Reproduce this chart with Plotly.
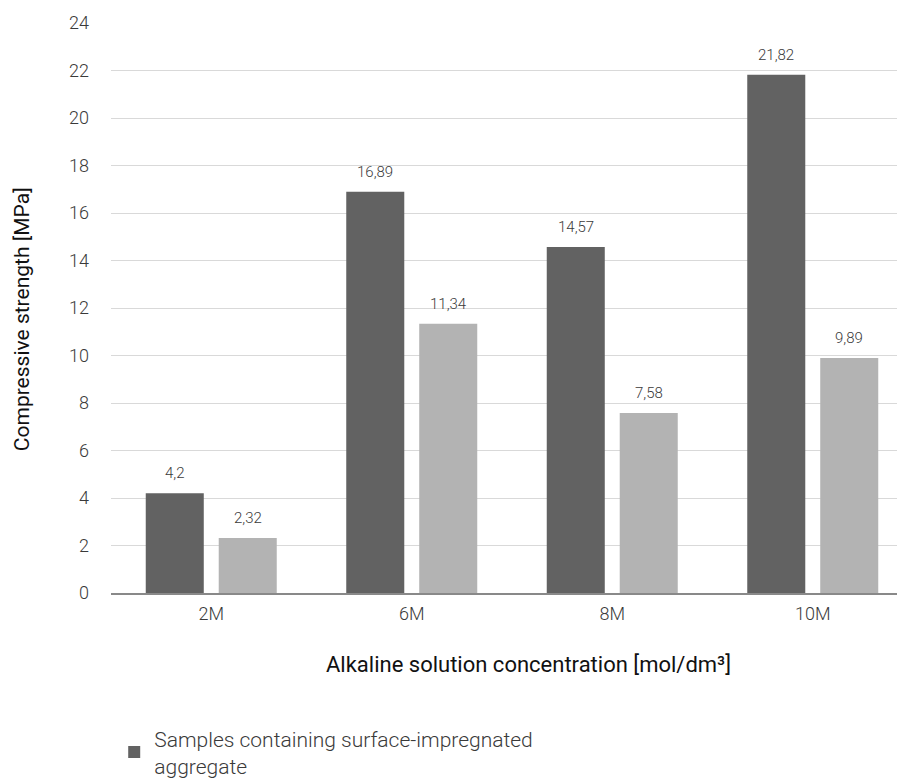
import plotly.graph_objects as go

categories = ["2M", "6M", "8M", "10M"]
impregnated = [4.2, 16.89, 14.57, 21.82]
reference = [2.32, 11.34, 7.58, 9.89]
series_names = ["Samples containing surface-impregnated<br>aggregate",
                "Samples containing non-impregnated aggregate"]
y_ticks = list(range(0, 25, 2))
x_title = "Alkaline solution concentration [mol/dm³]"
y_title = "Compressive strength [MPa]"

def fmt(v):
    return str(v).replace(".", ",")

DARK = "#626262"
LIGHT = "#b3b3b3"
FONT = "Roboto"
TXT = "#3a3a3a"

fig = go.Figure()
fig.add_trace(go.Bar(x=categories, y=impregnated, name=series_names[0],
                     marker=dict(color=DARK, line=dict(width=0))))
fig.add_trace(go.Bar(x=categories, y=reference, name=series_names[1],
                     marker=dict(color=LIGHT, line=dict(width=0)), showlegend=False))

shift = 36.5
for i, c in enumerate(categories):
    fig.add_annotation(x=c, y=impregnated[i], text=fmt(impregnated[i]), xshift=-shift,
                       yshift=20, showarrow=False,
                       font=dict(family=FONT, size=15, color=TXT, weight=300))
    fig.add_annotation(x=c, y=reference[i], text=fmt(reference[i]), xshift=shift,
                       yshift=20, showarrow=False,
                       font=dict(family=FONT, size=15, color=TXT, weight=300))

fig.add_annotation(text=x_title, xref="paper", yref="paper", x=0.52, y=-0.126,
                   xanchor="center", yanchor="middle", showarrow=False,
                   font=dict(family=FONT, size=22, color="#111111"))
fig.add_annotation(text=y_title, xref="paper", yref="paper", x=-0.110, y=0.48,
                   xanchor="center", yanchor="middle", showarrow=False, textangle=-90,
                   font=dict(family=FONT, size=21, color="#111111"))

fig.update_layout(
    width=905, height=784,
    margin=dict(l=103, r=0, t=15, b=199),
    paper_bgcolor="white", plot_bgcolor="white",
    barmode="group", bargap=0.272, bargroupgap=0.205,
    font=dict(family=FONT, size=18, color=TXT),
    showlegend=True,
    legend=dict(x=0.004, y=0.094, xref="paper", yref="container", xanchor="left", yanchor="top",
                orientation="h", font=dict(family=FONT, size=21, color=TXT, weight=300),
                itemwidth=30),
    xaxis=dict(showline=True, linecolor="#898989", linewidth=2, ticks="", automargin=False,
               ticklabelstandoff=3,
               tickfont=dict(family=FONT, size=18, color=TXT, weight=300)),
    yaxis=dict(range=[0, 24], tickvals=y_ticks, showgrid=True, gridcolor="#d9d9d9",
               gridwidth=1, zeroline=False, ticks="", ticklabelstandoff=21, automargin=False,
               tickfont=dict(family=FONT, size=18, color=TXT, weight=300)),
)

fig.write_html("out.html")
